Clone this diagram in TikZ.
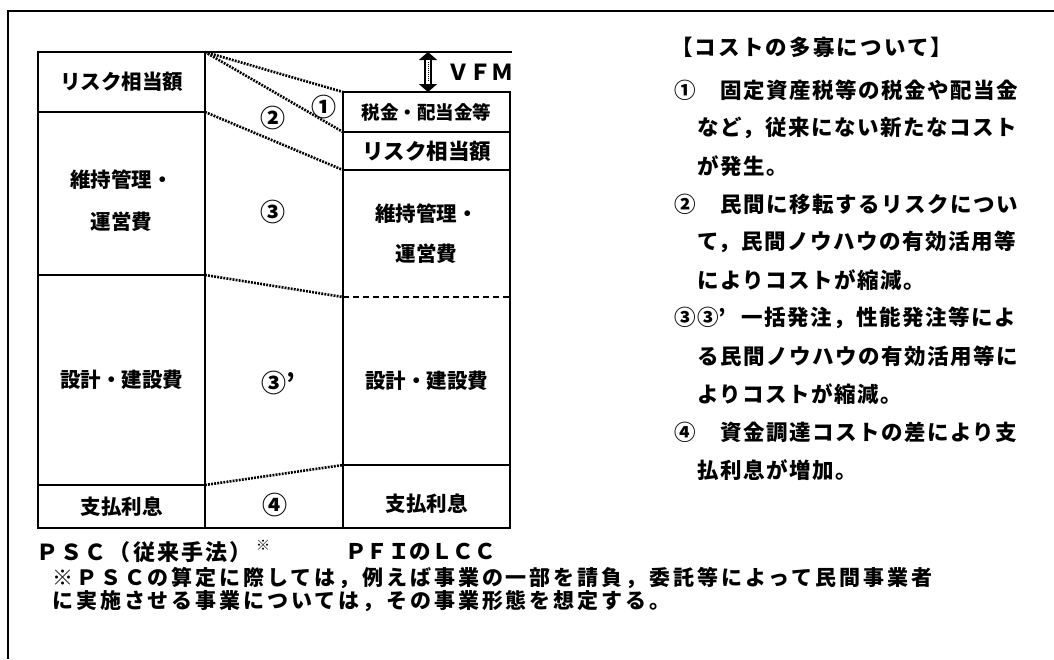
\documentclass[tikz,border=0pt]{standalone}
\usepackage{fontspec}
\usetikzlibrary{arrows.meta}
\setmainfont{Noto Sans CJK JP}
\newfontfamily\listfont[LetterSpace=7]{Noto Sans CJK JP}
\newfontfamily\titlefont[LetterSpace=10]{Noto Sans CJK JP}
\newfontfamily\notefont[LetterSpace=14]{Noto Sans CJK JP}
\newfontfamily\capfont[LetterSpace=10]{Noto Sans CJK JP}
\tikzset{
  cell/.style={minimum width=167pt, inner sep=0pt, outer sep=0pt, align=center,
    font=\bfseries\fontsize{20.5}{42}\selectfont},
  rule/.style={line width=2.8pt},
  dots/.style={line width=2.6pt, dash pattern=on 1.9pt off 1.2pt},
  circnum/.style={font=\bfseries\fontsize{25}{25}\selectfont, inner sep=0pt},
  listline/.style={anchor=west, inner sep=0pt, font=\listfont\bfseries\fontsize{21.5}{21.5}\selectfont},
  noteline/.style={anchor=west, inner sep=0pt, font=\notefont\bfseries\fontsize{21}{21}\selectfont},
  widelbl/.style={anchor=west, inner sep=0pt, font=\bfseries\fontsize{22}{22}\selectfont},
}
\begin{document}
\begin{tikzpicture}[x=1pt, y=-1pt]
			\useasboundingbox (0,0) rectangle (1054,659);
			%\draw [help lines] (0,0) grid[step=50] (1054,659);
			\draw[line width=2pt] (1054,11) -- (8,11) -- (8,659);
			% PSC column
			\node[cell, minimum height=60pt] (pscrisk) at (121.5,82) {リスク相当額};
			\node[cell, minimum height=163pt, text height=74pt, text depth=2.5pt] (pscom) at (121.5,193.5) {維持管理・\\運営費};
			\node[cell, minimum height=210pt] (pscbuild) at (121.5,380) {設計・建設費};
			\node[cell, minimum height=43pt] (pscint) at (121.5,506.5) {支払利息};
			% PFI LCC column
			\node[cell, minimum height=40pt, font=\bfseries\fontsize{18.5}{18.5}\selectfont] (lcctax) at (426.5,112) {税金・配当金等};
			\node[cell, minimum height=38pt, font=\bfseries\fontsize{21.5}{21.5}\selectfont] (lccrisk) at (426.5,151) {リスク相当額};
			\node[cell, minimum height=127pt, font=\bfseries\fontsize{20.5}{40}\selectfont] (lccom) at (426.5,233.5) {維持管理・\\運営費};
			\node[cell, minimum height=168pt] (lccbuild) at (426.5,381) {設計・建設費};
			\node[cell, minimum height=63pt] (lccint) at (426.5,496.5) {\raisebox{-7pt}[\height][\depth]{支払利息}};
			\coordinate (topend) at (512,52);
			\draw[rule] (pscrisk.north west) rectangle (pscint.south east);
			\draw[rule] (pscrisk.south west) -- (pscrisk.south east);
			\draw[rule] (pscom.south west) -- (pscom.south east);
			\draw[rule] (pscbuild.south west) -- (pscbuild.south east);
			\draw[rule] (pscrisk.north west) -- (topend);
			\draw[rule] (pscint.south west) -- (lccint.south east);
			\draw[rule] (lcctax.north west) rectangle (lccint.south east);
			\draw[rule] (lcctax.south west) -- (lcctax.south east);
			\draw[rule] (lccrisk.south west) -- (lccrisk.south east);
			\draw[rule, dash pattern=on 6pt off 4pt] (lccom.south west) -- (lccom.south east);
			\draw[rule] (lccbuild.south west) -- (lccbuild.south east);
			% differences
			\draw[dots] (pscrisk.north east) -- (lcctax.north west);
			\draw[dots] (pscrisk.north east) -- (lccrisk.north west);
			\draw[dots] (pscrisk.south east) -- (lccom.north west);
			\draw[dots] (pscom.south east) -- (lccbuild.north west);
			\draw[dots] (pscbuild.south east) -- (lccint.north west);
			\node[circnum] (d1) at (324,107) {①};
			\node[circnum] (d2) at (273,118) {②};
			\node[circnum] (d3) at (273,212) {③};
			\node[circnum, anchor=west] (d3b) at (261,383) {③’};
			\node[circnum] (d4) at (275,505) {④};
			% VFM
			\coordinate (vfmtop) at (428,52);
			\coordinate (vfmbot) at (lcctax.north -| vfmtop);
			\draw[line width=8pt, {Triangle[width=18pt,length=8pt]}-{Triangle[width=18pt,length=8pt]}] (vfmtop) -- (vfmbot);
			\draw[white, line width=4.4pt, shorten <=8pt, shorten >=8pt] (vfmtop) -- (vfmbot);
			\draw[line width=1pt, densely dotted, shorten <=10pt, shorten >=10pt] (vfmtop) -- (vfmbot);
			\node[widelbl] (vfm) at (447,72) {ＶＦＭ};
			% captions
			\node[widelbl, font=\capfont\bfseries\fontsize{22}{22}\selectfont] (psclbl) at (36,552) {ＰＳＣ（従来手法）};
			\node[inner sep=0pt, font=\bfseries\fontsize{14}{14}\selectfont] (pscmark) at (263,545) {※};
			\node[widelbl, font=\bfseries\fontsize{21.5}{21.5}\selectfont] (lcclbl) at (345,552) {ＰＦＩのＬＣＣ};
			\node[noteline] (note1) at (52,578) {※ＰＳＣの算定に際しては，例えば事業の一部を請負，委託等によって民間事業者};
			\node[noteline] (note2) at (52,601) {に実施させる事業については，その事業形態を想定する。};
			% explanation
			\node[listline, font=\titlefont\bfseries\fontsize{21.5}{21.5}\selectfont] (title) at (671,47) {【コストの多寡について】};
			\foreach \txt [count=\i from 0] in {①　固定資産税等の税金や配当金, 　など，従来にない新たなコスト, 　が発生。,
				②　民間に移転するリスクについ, 　て，民間ノウハウの有効活用等, 　によりコストが縮減。,
				{③③\makebox[1.07em][l]{’}一括発注，性能発注等によ}, 　る民間ノウハウの有効活用等に, 　よりコストが縮減。,
				④　資金調達コストの差により支, 　払利息が増加。}
				\node[listline] (item\i) at (674,{90+38*\i}) {\txt};
\end{tikzpicture}
\end{document}
